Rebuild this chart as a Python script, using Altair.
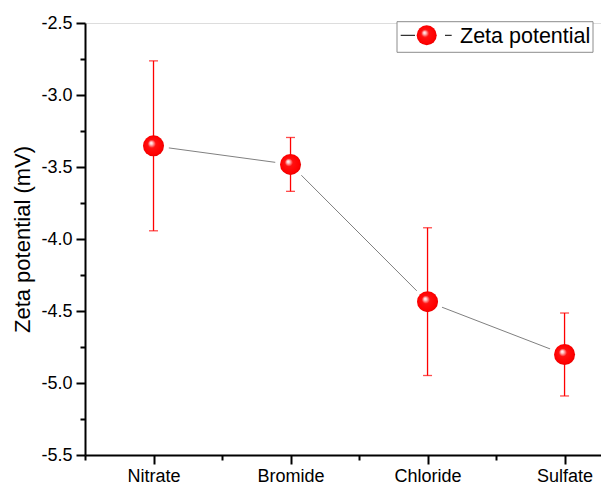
import json
import altair as alt
import pandas as pd

# ---- data ----
CATEGORIES = ["Nitrate", "Bromide", "Chloride", "Sulfate"]
ZETA = [-3.353, -3.482, -4.435, -4.802]
ERR = [0.590, 0.187, 0.513, 0.288]
Y_TICKS = [-5.5, -5.0, -4.5, -4.0, -3.5, -3.0, -2.5]
Y_MINOR = [-5.25, -4.75, -4.25, -3.75, -3.25, -2.75]
X_MAJOR = [0, 1, 2, 3]
X_MINOR = [-0.5, 0.5, 1.5, 2.5]
SERIES = "Zeta potential"
Y_TITLE = "Zeta potential (mV)"

FONT = "Liberation Sans"

df = pd.DataFrame({"idx": list(range(len(CATEGORIES))), "cat": CATEGORIES,
                   "zeta": ZETA, "err": ERR})
df["hi"] = df["zeta"] + df["err"]
df["lo"] = df["zeta"] - df["err"]

legend_df = pd.DataFrame({"label": [SERIES]})

xscale = alt.Scale(domain=[-0.5, 3.266], nice=False, zero=False)
yscale = alt.Scale(domain=[-5.5, -2.5], nice=False, zero=False)

label_expr = json.dumps(CATEGORIES) + "[datum.value]"
y_label_expr = "replace(format(datum.value, '.1f'), '\u2212', '-')"

x_major = alt.Axis(orient="bottom", values=X_MAJOR, labelExpr=label_expr, title=None,
                   grid=False, tickSize=9, tickWidth=2, tickColor="black",
                   domainColor="black", domainWidth=2, labelFontSize=18,
                   labelColor="black", labelPadding=3, labelFont=FONT)
x_minor = alt.Axis(orient="bottom", values=X_MINOR, labels=False, title=None,
                   grid=False, tickSize=5, tickWidth=2, tickColor="black",
                   domain=False)
y_major = alt.Axis(orient="left", values=Y_TICKS, labelExpr=y_label_expr, title=Y_TITLE,
                   grid=False, tickSize=9, tickWidth=2, tickColor="black",
                   domainColor="black", domainWidth=2, labelFontSize=18,
                   labelColor="black", labelPadding=4, labelFont=FONT,
                   titleFontSize=22, titleFont=FONT, titleFontWeight="normal",
                   titleColor="black", titleX=-63, titleY=216, titleAngle=-90,
                   titleAlign="center", titleBaseline="middle")
y_minor = alt.Axis(orient="left", values=Y_MINOR, labels=False, title=None,
                   grid=False, tickSize=5, tickWidth=2, tickColor="black",
                   domain=False)

sphere = {
    "gradient": "radial",
    "x1": 0.38, "y1": 0.36, "r1": 0,
    "x2": 0.5, "y2": 0.5, "r2": 0.55,
    "stops": [
        {"offset": 0.0, "color": "#ffffff"},
        {"offset": 0.12, "color": "#ffc8c8"},
        {"offset": 0.35, "color": "#ff1010"},
        {"offset": 0.8, "color": "#ff0000"},
        {"offset": 1.0, "color": "#d80000"},
    ],
}

base = alt.Chart(df)

line = base.mark_line(color="#808080", strokeWidth=1).encode(
    x=alt.X("idx:Q", scale=xscale, axis=x_major),
    y=alt.Y("zeta:Q", scale=yscale, axis=y_major),
)

halo = base.mark_point(filled=True, fill="white", size=961, opacity=1, strokeWidth=0).encode(
    x=alt.X("idx:Q", scale=xscale, axis=x_minor),
    y=alt.Y("zeta:Q", scale=yscale, axis=y_minor),
)

bars = base.mark_rule(color="#ff0000", strokeWidth=1.3).encode(
    x=alt.X("idx:Q", scale=xscale, axis=None),
    y=alt.Y("lo:Q", scale=yscale, axis=None),
    y2="hi:Q",
)

cap_hi = base.mark_tick(color="#ff0000", orient="horizontal", size=9, thickness=1.3).encode(
    x=alt.X("idx:Q", scale=xscale, axis=None),
    y=alt.Y("hi:Q", scale=yscale, axis=None),
)
cap_lo = base.mark_tick(color="#ff0000", orient="horizontal", size=9, thickness=1.3).encode(
    x=alt.X("idx:Q", scale=xscale, axis=None),
    y=alt.Y("lo:Q", scale=yscale, axis=None),
)

points = base.mark_point(filled=True, fill=sphere, size=441, opacity=1, strokeWidth=0).encode(
    x=alt.X("idx:Q", scale=xscale, axis=None),
    y=alt.Y("zeta:Q", scale=yscale, axis=None),
)

# ---- hand-made legend (Origin style) ----
lbase = alt.Chart(legend_df)
lbox = lbase.mark_rect(fill="white", stroke="#8c8c8c", strokeWidth=1).encode(
    x=alt.value(312), x2=alt.value(508), y=alt.value(-1.3), y2=alt.value(29.3))
lseg1 = lbase.mark_rule(color="black", strokeWidth=1).encode(
    x=alt.value(315.7), x2=alt.value(330), y=alt.value(12.3))
lseg2 = lbase.mark_rule(color="black", strokeWidth=1).encode(
    x=alt.value(360), x2=alt.value(366.7), y=alt.value(12.3))
lsym = lbase.mark_point(filled=True, fill=sphere, size=400, opacity=1, strokeWidth=0).encode(
    x=alt.value(341.7), y=alt.value(12.3))
ltext = lbase.mark_text(align="left", baseline="alphabetic", fontSize=21.5,
                        font=FONT, color="black").encode(
    x=alt.value(375), y=alt.value(20.3), text="label:N")

chart = alt.layer(line, halo, bars, cap_hi, cap_lo, points,
                  lbox, lseg1, lseg2, lsym, ltext).resolve_axis(
    x="independent", y="independent"
).properties(
    width=516, height=432,
    autosize=alt.AutoSizeParams(type="none"),
    padding={"left": 85, "top": 23, "right": 0, "bottom": 30},
).configure_view(stroke=None).configure(font=FONT)

chart.save("out.html", embed_options={"renderer": "svg", "actions": False})
